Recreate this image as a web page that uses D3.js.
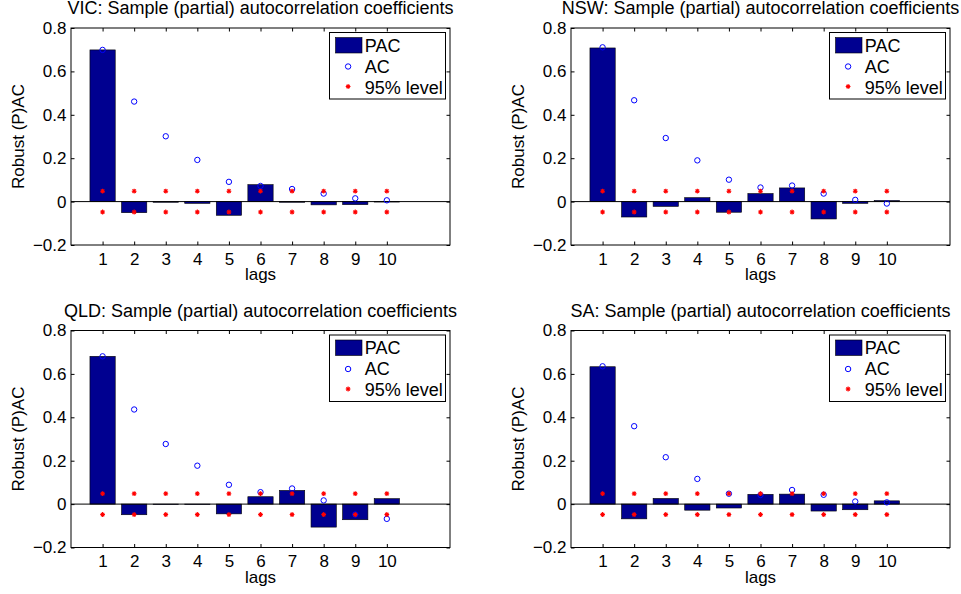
<!DOCTYPE html>
<html>
<head>
<meta charset="UTF-8">
<title>Sample (partial) autocorrelation coefficients</title>
<script src="https://cdnjs.cloudflare.com/ajax/libs/d3/7.8.5/d3.min.js"></script>
<style>
body { margin:0; background:#fff; }
text { font-family:"Liberation Sans", Arial, Helvetica, sans-serif; fill:#000; }
.tick text { font-size:17px; }
.tick line { stroke:#000; }
.title { font-size:18px; }
.lab { font-size:17px; }
.leg { font-size:18px; }
</style>
</head>
<body>
<div id="chart"></div>
<script>
var width = 961, height = 594;

// lags and the four regions
var lags = [1, 2, 3, 4, 5, 6, 7, 8, 9, 10];
var regions = ["VIC", "NSW", "QLD", "SA"];

// partial autocorrelations (bars)
var vicPAC = [0.699, -0.051, -0.003, -0.008, -0.063, 0.078, -0.003, -0.015, -0.014, -0.002];
var nswPAC = [0.708, -0.071, -0.022, 0.018, -0.049, 0.037, 0.063, -0.080, -0.008, 0.005];
var qldPAC = [0.681, -0.049, -0.002, -0.002, -0.045, 0.034, 0.063, -0.106, -0.072, 0.025];
var saPAC  = [0.633, -0.068, 0.026, -0.028, -0.018, 0.045, 0.046, -0.032, -0.026, 0.015];

// autocorrelations (circles)
var vicAC = [0.699, 0.461, 0.301, 0.192, 0.091, 0.072, 0.058, 0.037, 0.015, 0.006];
var nswAC = [0.711, 0.467, 0.293, 0.190, 0.101, 0.065, 0.074, 0.037, 0.008, -0.009];
var qldAC = [0.681, 0.436, 0.277, 0.177, 0.089, 0.055, 0.072, 0.017, -0.048, -0.068];
var saAC  = [0.635, 0.359, 0.216, 0.116, 0.048, 0.042, 0.065, 0.043, 0.012, 0.008];

// 95% level
var level95 = 0.048;

var yTicks = [-0.2, 0, 0.2, 0.4, 0.6, 0.8];
var xDomain = [0, 12];
var yDomain = [-0.2, 0.8];

var pacs = [vicPAC, nswPAC, qldPAC, saPAC];
var acs = [vicAC, nswAC, qldAC, saAC];

var svg = d3.select("#chart").append("svg").attr("width", width).attr("height", height);

var axW = 379, axH = 217;
var lefts = [71, 571], tops = [28, 330.5];

var barFill = "#000090";

function star(s) {
  var d = s * 0.72;
  return "M" + (-s) + ",0L" + s + ",0M0," + (-s) + "L0," + s +
         "M" + (-d) + "," + (-d) + "L" + d + "," + d + "M" + (-d) + "," + d + "L" + d + "," + (-d);
}

regions.forEach(function(name, k) {
  var g = svg.append("g")
    .attr("transform", "translate(" + lefts[k % 2] + "," + tops[Math.floor(k / 2)] + ")");

  var x = d3.scaleLinear().domain(xDomain).range([0, axW]);
  var y = d3.scaleLinear().domain(yDomain).range([axH, 0]);

  var rows = lags.map(function(l, i) { return {lag: l, pac: pacs[k][i], ac: acs[k][i]}; });

  // bars
  g.selectAll(".bar").data(rows).enter().append("rect")
    .attr("class", "bar")
    .attr("x", function(d) { return x(d.lag - 0.4); })
    .attr("width", x(0.8) - x(0))
    .attr("y", function(d) { return y(Math.max(d.pac, 0)); })
    .attr("height", function(d) { return Math.abs(y(d.pac) - y(0)); })
    .attr("fill", barFill)
    .attr("stroke", "#000")
    .attr("stroke-width", 0.6);

  // baseline
  g.append("line")
    .attr("x1", 0).attr("x2", axW)
    .attr("y1", y(0)).attr("y2", y(0))
    .attr("stroke", "#000").attr("stroke-width", 1);

  // AC circles
  g.selectAll(".ac").data(rows).enter().append("circle")
    .attr("cx", function(d) { return x(d.lag); })
    .attr("cy", function(d) { return y(d.ac); })
    .attr("r", 2.7)
    .attr("fill", "none")
    .attr("stroke", "#0000ff")
    .attr("stroke-width", 1);

  // 95% level stars, above and below
  [level95, -level95].forEach(function(v) {
    g.selectAll(null).data(lags).enter().append("path")
      .attr("d", star(2.4))
      .attr("transform", function(l) { return "translate(" + x(l) + "," + y(v) + ")"; })
      .attr("stroke", "#ff0000")
      .attr("stroke-width", 1.1)
      .attr("fill", "none");
  });

  // axes, ticks pointing inward on all four sides
  var ax = g.append("g").attr("transform", "translate(0," + axH + ")")
    .call(d3.axisBottom(x).tickValues(lags).tickFormat(d3.format("d"))
      .tickSizeInner(-3.5).tickSizeOuter(0).tickPadding(7.5));
  var ay = g.append("g")
    .call(d3.axisLeft(y).tickValues(yTicks)
      .tickFormat(function(d) { return d === 0 ? "0" : d3.format(".1f")(d); })
      .tickSizeInner(-3.5).tickSizeOuter(0).tickPadding(4.5));
  var at = g.append("g")
    .call(d3.axisTop(x).tickValues(lags).tickFormat("").tickSizeInner(-3.5).tickSizeOuter(0));
  var ar = g.append("g").attr("transform", "translate(" + axW + ",0)")
    .call(d3.axisRight(y).tickValues(yTicks).tickFormat("").tickSizeInner(-3.5).tickSizeOuter(0));
  [ax, ay, at, ar].forEach(function(a) { a.select(".domain").remove(); a.selectAll("text").attr("font-family", null).attr("font-size", null); });

  g.append("rect")
    .attr("width", axW).attr("height", axH)
    .attr("fill", "none").attr("stroke", "#000").attr("stroke-width", 1);

  // title and labels
  g.append("text").attr("class", "title")
    .attr("x", axW / 2).attr("y", -14)
    .attr("text-anchor", "middle")
    .text(name + ": Sample (partial) autocorrelation coefficients");

  g.append("text").attr("class", "lab")
    .attr("x", axW / 2).attr("y", axH + 35)
    .attr("text-anchor", "middle")
    .text("lags");

  g.append("text").attr("class", "lab")
    .attr("transform", "translate(-47," + (axH / 2) + ") rotate(-90)")
    .attr("text-anchor", "middle")
    .text("Robust (P)AC");

  // legend
  var lg = g.append("g").attr("transform", "translate(" + (axW - 120.5) + ",4.5)");
  lg.append("rect")
    .attr("width", 116).attr("height", 66.5)
    .attr("fill", "#fff").attr("stroke", "#000").attr("stroke-width", 1);
  lg.append("rect")
    .attr("x", 6).attr("y", 5).attr("width", 26.5).attr("height", 15.5)
    .attr("fill", barFill).attr("stroke", "#000").attr("stroke-width", 0.6);
  lg.append("circle")
    .attr("cx", 18.6).attr("cy", 34).attr("r", 2.7)
    .attr("fill", "none").attr("stroke", "#0000ff");
  lg.append("path")
    .attr("d", star(2.4))
    .attr("transform", "translate(18.6,54)")
    .attr("stroke", "#ff0000").attr("stroke-width", 1.1).attr("fill", "none");
  var legNames = ["PAC", "AC", "95% level"];
  lg.selectAll(".leg").data(legNames).enter().append("text")
    .attr("class", "leg")
    .attr("x", 35.3)
    .attr("y", function(d, i) { return 12.7 + i * 21; })
    .attr("dy", "0.36em")
    .text(function(d) { return d; });
});
</script>
</body>
</html>
